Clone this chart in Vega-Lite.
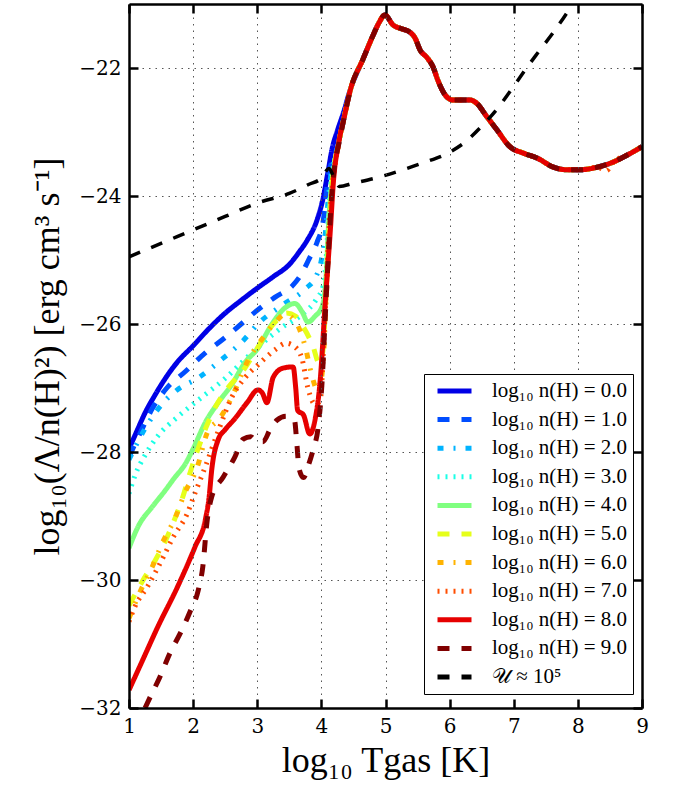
{
"$schema": "https://vega.github.io/schema/vega-lite/v6.json",
"width": 513, "height": 704,
"autosize": {"type": "none"},
"padding": {"left": 129, "top": 4, "right": 32, "bottom": 78},
"background": "white",
"config": {"view": {"stroke": null}, "font": "Liberation Serif"},
"datasets": {
"lines": [
{"k":0,"x":1,"y":-27.95},{"k":0,"x":1.12,"y":-27.68},{"k":0,"x":1.25,"y":-27.39},{"k":0,"x":1.4,"y":-27.12},{"k":0,"x":1.56,"y":-26.86},{"k":0,"x":1.75,"y":-26.6},{"k":0,"x":2,"y":-26.34},{"k":0,"x":2.25,"y":-26.07},{"k":0,"x":2.5,"y":-25.83},{"k":0,"x":2.75,"y":-25.63},{"k":0,"x":3,"y":-25.44},{"k":0,"x":3.25,"y":-25.26},{"k":0,"x":3.5,"y":-25.07},{"k":0,"x":3.65,"y":-24.88},{"k":0,"x":3.78,"y":-24.69},{"k":0,"x":3.93,"y":-24.38},{"k":0,"x":4.03,"y":-24.02},{"k":0,"x":4.1,"y":-23.64},{"k":0,"x":4.17,"y":-23.25},{"k":0,"x":4.25,"y":-22.98},{"k":0,"x":4.35,"y":-22.68},
{"k":0,"x":4.45,"y":-22.34},{"k":0,"x":4.65,"y":-21.86},{"k":0,"x":4.81,"y":-21.48},{"k":0,"x":4.9,"y":-21.29},{"k":0,"x":4.99,"y":-21.17},{"k":0,"x":5.12,"y":-21.33},{"k":0,"x":5.23,"y":-21.38},{"k":0,"x":5.38,"y":-21.44},{"k":0,"x":5.46,"y":-21.53},{"k":0,"x":5.54,"y":-21.72},{"k":0,"x":5.65,"y":-21.84},{"k":0,"x":5.74,"y":-21.98},{"k":0,"x":5.82,"y":-22.2},{"k":0,"x":5.93,"y":-22.42},{"k":0,"x":6.05,"y":-22.5},{"k":0,"x":6.32,"y":-22.5},{"k":0,"x":6.42,"y":-22.55},{"k":0,"x":6.58,"y":-22.76},{"k":0,"x":6.74,"y":-22.97},{"k":0,"x":6.94,"y":-23.23},{"k":0,"x":7.15,"y":-23.33},{"k":0,"x":7.37,"y":-23.41},{"k":0,"x":7.62,"y":-23.55},{"k":0,"x":7.83,"y":-23.59},{"k":0,"x":8.03,"y":-23.59},{"k":0,"x":8.3,"y":-23.55},{"k":0,"x":8.55,"y":-23.47},{"k":0,"x":8.77,"y":-23.36},{"k":0,"x":9,"y":-23.23},

{"k":1,"x":1,"y":-28.08},{"k":1,"x":1.2,"y":-27.65},{"k":1,"x":1.37,"y":-27.31},{"k":1,"x":1.59,"y":-27.0},{"k":1,"x":1.87,"y":-26.75},{"k":1,"x":2.19,"y":-26.45},{"k":1,"x":2.45,"y":-26.25},{"k":1,"x":2.75,"y":-26.0},{"k":1,"x":2.97,"y":-25.81},{"k":1,"x":3.28,"y":-25.58},{"k":1,"x":3.56,"y":-25.39},{"k":1,"x":3.7,"y":-25.2},{"k":1,"x":3.8,"y":-25.0},{"k":1,"x":3.93,"y":-24.73},{"k":1,"x":4.03,"y":-24.38},{"k":1,"x":4.1,"y":-23.75},
{"k":1,"x":4.27,"y":-23.17},{"k":1,"x":4.36,"y":-22.75},{"k":1,"x":4.45,"y":-22.35},{"k":1,"x":4.65,"y":-21.86},{"k":1,"x":4.81,"y":-21.48},{"k":1,"x":4.9,"y":-21.29},{"k":1,"x":4.99,"y":-21.17},{"k":1,"x":5.12,"y":-21.33},{"k":1,"x":5.23,"y":-21.38},{"k":1,"x":5.38,"y":-21.44},{"k":1,"x":5.46,"y":-21.53},{"k":1,"x":5.54,"y":-21.72},{"k":1,"x":5.65,"y":-21.84},{"k":1,"x":5.74,"y":-21.98},{"k":1,"x":5.82,"y":-22.2},{"k":1,"x":5.93,"y":-22.42},{"k":1,"x":6.05,"y":-22.5},{"k":1,"x":6.32,"y":-22.5},{"k":1,"x":6.42,"y":-22.55},{"k":1,"x":6.58,"y":-22.76},{"k":1,"x":6.74,"y":-22.97},{"k":1,"x":6.94,"y":-23.23},{"k":1,"x":7.15,"y":-23.33},{"k":1,"x":7.37,"y":-23.41},{"k":1,"x":7.62,"y":-23.55},{"k":1,"x":7.83,"y":-23.59},{"k":1,"x":8.03,"y":-23.59},{"k":1,"x":8.3,"y":-23.55},{"k":1,"x":8.55,"y":-23.47},{"k":1,"x":8.77,"y":-23.36},{"k":1,"x":9,"y":-23.23},

{"k":2,"x":1,"y":-28.12},{"k":2,"x":1.3,"y":-27.55},{"k":2,"x":1.59,"y":-27.17},{"k":2,"x":1.75,"y":-27.03},{"k":2,"x":2.1,"y":-26.83},{"k":2,"x":2.45,"y":-26.55},{"k":2,"x":2.76,"y":-26.28},{"k":2,"x":3.04,"y":-25.97},{"k":2,"x":3.4,"y":-25.7},{"k":2,"x":3.75,"y":-25.45},{"k":2,"x":3.92,"y":-25.25},{"k":2,"x":4.0,"y":-25.0},{"k":2,"x":4.06,"y":-24.6},{"k":2,"x":4.12,"y":-23.9},
{"k":2,"x":4.27,"y":-23.17},{"k":2,"x":4.36,"y":-22.75},{"k":2,"x":4.45,"y":-22.35},{"k":2,"x":4.65,"y":-21.86},{"k":2,"x":4.81,"y":-21.48},{"k":2,"x":4.9,"y":-21.29},{"k":2,"x":4.99,"y":-21.17},{"k":2,"x":5.12,"y":-21.33},{"k":2,"x":5.23,"y":-21.38},{"k":2,"x":5.38,"y":-21.44},{"k":2,"x":5.46,"y":-21.53},{"k":2,"x":5.54,"y":-21.72},{"k":2,"x":5.65,"y":-21.84},{"k":2,"x":5.74,"y":-21.98},{"k":2,"x":5.82,"y":-22.2},{"k":2,"x":5.93,"y":-22.42},{"k":2,"x":6.05,"y":-22.5},{"k":2,"x":6.32,"y":-22.5},{"k":2,"x":6.42,"y":-22.55},{"k":2,"x":6.58,"y":-22.76},{"k":2,"x":6.74,"y":-22.97},{"k":2,"x":6.94,"y":-23.23},{"k":2,"x":7.15,"y":-23.33},{"k":2,"x":7.37,"y":-23.41},{"k":2,"x":7.62,"y":-23.55},{"k":2,"x":7.83,"y":-23.59},{"k":2,"x":8.03,"y":-23.59},{"k":2,"x":8.3,"y":-23.55},{"k":2,"x":8.55,"y":-23.47},{"k":2,"x":8.77,"y":-23.36},{"k":2,"x":9,"y":-23.23},

{"k":3,"x":1,"y":-28.65},{"k":3,"x":1.1,"y":-28.35},{"k":3,"x":1.25,"y":-28.05},{"k":3,"x":1.45,"y":-27.75},{"k":3,"x":1.76,"y":-27.45},{"k":3,"x":2.14,"y":-27.14},{"k":3,"x":2.5,"y":-26.85},{"k":3,"x":2.76,"y":-26.6},{"k":3,"x":3.08,"y":-26.3},{"k":3,"x":3.39,"y":-26.05},{"k":3,"x":3.7,"y":-25.85},{"k":3,"x":3.93,"y":-25.6},{"k":3,"x":4.03,"y":-25.4},{"k":3,"x":4.08,"y":-24.9},{"k":3,"x":4.13,"y":-24.0},
{"k":3,"x":4.27,"y":-23.17},{"k":3,"x":4.36,"y":-22.75},{"k":3,"x":4.45,"y":-22.35},{"k":3,"x":4.65,"y":-21.86},{"k":3,"x":4.81,"y":-21.48},{"k":3,"x":4.9,"y":-21.29},{"k":3,"x":4.99,"y":-21.17},{"k":3,"x":5.12,"y":-21.33},{"k":3,"x":5.23,"y":-21.38},{"k":3,"x":5.38,"y":-21.44},{"k":3,"x":5.46,"y":-21.53},{"k":3,"x":5.54,"y":-21.72},{"k":3,"x":5.65,"y":-21.84},{"k":3,"x":5.74,"y":-21.98},{"k":3,"x":5.82,"y":-22.2},{"k":3,"x":5.93,"y":-22.42},{"k":3,"x":6.05,"y":-22.5},{"k":3,"x":6.32,"y":-22.5},{"k":3,"x":6.42,"y":-22.55},{"k":3,"x":6.58,"y":-22.76},{"k":3,"x":6.74,"y":-22.97},{"k":3,"x":6.94,"y":-23.23},{"k":3,"x":7.15,"y":-23.33},{"k":3,"x":7.37,"y":-23.41},{"k":3,"x":7.62,"y":-23.55},{"k":3,"x":7.83,"y":-23.59},{"k":3,"x":8.03,"y":-23.59},{"k":3,"x":8.3,"y":-23.55},{"k":3,"x":8.55,"y":-23.47},{"k":3,"x":8.77,"y":-23.36},{"k":3,"x":9,"y":-23.23},

{"k":4,"x":1,"y":-29.5},{"k":4,"x":1.15,"y":-29.15},{"k":4,"x":1.36,"y":-28.86},{"k":4,"x":1.55,"y":-28.62},{"k":4,"x":1.72,"y":-28.39},{"k":4,"x":1.87,"y":-28.2},{"k":4,"x":2,"y":-27.95},{"k":4,"x":2.2,"y":-27.52},{"k":4,"x":2.39,"y":-27.23},{"k":4,"x":2.6,"y":-26.95},{"k":4,"x":2.81,"y":-26.6},{"k":4,"x":3.01,"y":-26.38},{"k":4,"x":3.23,"y":-26.0},{"k":4,"x":3.43,"y":-25.75},{"k":4,"x":3.59,"y":-25.68},{"k":4,"x":3.7,"y":-25.81},{"k":4,"x":3.79,"y":-25.97},{"k":4,"x":3.9,"y":-25.88},{"k":4,"x":4.01,"y":-25.73},{"k":4,"x":4.07,"y":-25.3},{"k":4,"x":4.12,"y":-24.3},
{"k":4,"x":4.27,"y":-23.17},{"k":4,"x":4.36,"y":-22.75},{"k":4,"x":4.45,"y":-22.35},{"k":4,"x":4.65,"y":-21.86},{"k":4,"x":4.81,"y":-21.48},{"k":4,"x":4.9,"y":-21.29},{"k":4,"x":4.99,"y":-21.17},{"k":4,"x":5.12,"y":-21.33},{"k":4,"x":5.23,"y":-21.38},{"k":4,"x":5.38,"y":-21.44},{"k":4,"x":5.46,"y":-21.53},{"k":4,"x":5.54,"y":-21.72},{"k":4,"x":5.65,"y":-21.84},{"k":4,"x":5.74,"y":-21.98},{"k":4,"x":5.82,"y":-22.2},{"k":4,"x":5.93,"y":-22.42},{"k":4,"x":6.05,"y":-22.5},{"k":4,"x":6.32,"y":-22.5},{"k":4,"x":6.42,"y":-22.55},{"k":4,"x":6.58,"y":-22.76},{"k":4,"x":6.74,"y":-22.97},{"k":4,"x":6.94,"y":-23.23},{"k":4,"x":7.15,"y":-23.33},{"k":4,"x":7.37,"y":-23.41},{"k":4,"x":7.62,"y":-23.55},{"k":4,"x":7.83,"y":-23.59},{"k":4,"x":8.03,"y":-23.59},{"k":4,"x":8.3,"y":-23.55},{"k":4,"x":8.55,"y":-23.47},{"k":4,"x":8.77,"y":-23.36},{"k":4,"x":9,"y":-23.23},

{"k":5,"x":1,"y":-30.4},{"k":5,"x":1.22,"y":-30.0},{"k":5,"x":1.41,"y":-29.69},{"k":5,"x":1.59,"y":-29.34},{"k":5,"x":1.72,"y":-29.03},{"k":5,"x":1.84,"y":-28.7},{"k":5,"x":1.95,"y":-28.33},{"k":5,"x":2.06,"y":-28.0},{"k":5,"x":2.2,"y":-27.62},{"k":5,"x":2.34,"y":-27.31},{"k":5,"x":2.54,"y":-27.0},{"k":5,"x":2.8,"y":-26.7},{"k":5,"x":3.0,"y":-26.38},{"k":5,"x":3.15,"y":-26.13},{"k":5,"x":3.3,"y":-25.95},{"k":5,"x":3.46,"y":-25.83},{"k":5,"x":3.6,"y":-25.88},{"k":5,"x":3.72,"y":-26.05},{"k":5,"x":3.87,"y":-26.35},{"k":5,"x":3.96,"y":-26.6},{"k":5,"x":4.02,"y":-26.45},{"k":5,"x":4.07,"y":-25.6},{"k":5,"x":4.12,"y":-24.6},{"k":5,"x":4.17,"y":-23.8},
{"k":5,"x":4.27,"y":-23.17},{"k":5,"x":4.36,"y":-22.75},{"k":5,"x":4.45,"y":-22.35},{"k":5,"x":4.65,"y":-21.86},{"k":5,"x":4.81,"y":-21.48},{"k":5,"x":4.9,"y":-21.29},{"k":5,"x":4.99,"y":-21.17},{"k":5,"x":5.12,"y":-21.33},{"k":5,"x":5.23,"y":-21.38},{"k":5,"x":5.38,"y":-21.44},{"k":5,"x":5.46,"y":-21.53},{"k":5,"x":5.54,"y":-21.72},{"k":5,"x":5.65,"y":-21.84},{"k":5,"x":5.74,"y":-21.98},{"k":5,"x":5.82,"y":-22.2},{"k":5,"x":5.93,"y":-22.42},{"k":5,"x":6.05,"y":-22.5},{"k":5,"x":6.32,"y":-22.5},{"k":5,"x":6.42,"y":-22.55},{"k":5,"x":6.58,"y":-22.76},{"k":5,"x":6.74,"y":-22.97},{"k":5,"x":6.94,"y":-23.23},{"k":5,"x":7.15,"y":-23.33},{"k":5,"x":7.37,"y":-23.41},{"k":5,"x":7.62,"y":-23.55},{"k":5,"x":7.83,"y":-23.59},{"k":5,"x":8.03,"y":-23.59},{"k":5,"x":8.3,"y":-23.55},{"k":5,"x":8.55,"y":-23.47},{"k":5,"x":8.77,"y":-23.36},{"k":5,"x":9,"y":-23.23},

{"k":6,"x":1,"y":-30.6},{"k":6,"x":1.17,"y":-30.19},{"k":6,"x":1.36,"y":-29.8},{"k":6,"x":1.53,"y":-29.4},{"k":6,"x":1.72,"y":-29.03},{"k":6,"x":1.87,"y":-28.64},{"k":6,"x":2.06,"y":-28.25},{"k":6,"x":2.22,"y":-27.7},{"k":6,"x":2.42,"y":-27.47},{"k":6,"x":2.6,"y":-27.15},{"k":6,"x":2.84,"y":-26.6},{"k":6,"x":3.1,"y":-26.2},{"k":6,"x":3.3,"y":-25.95},{"k":6,"x":3.43,"y":-25.85},{"k":6,"x":3.6,"y":-25.97},{"k":6,"x":3.75,"y":-26.36},{"k":6,"x":3.85,"y":-26.8},{"k":6,"x":3.95,"y":-27.05},{"k":6,"x":4.02,"y":-26.7},{"k":6,"x":4.08,"y":-25.5},{"k":6,"x":4.14,"y":-24.3},
{"k":6,"x":4.27,"y":-23.17},{"k":6,"x":4.36,"y":-22.75},{"k":6,"x":4.45,"y":-22.35},{"k":6,"x":4.65,"y":-21.86},{"k":6,"x":4.81,"y":-21.48},{"k":6,"x":4.9,"y":-21.29},{"k":6,"x":4.99,"y":-21.17},{"k":6,"x":5.12,"y":-21.33},{"k":6,"x":5.23,"y":-21.38},{"k":6,"x":5.38,"y":-21.44},{"k":6,"x":5.46,"y":-21.53},{"k":6,"x":5.54,"y":-21.72},{"k":6,"x":5.65,"y":-21.84},{"k":6,"x":5.74,"y":-21.98},{"k":6,"x":5.82,"y":-22.2},{"k":6,"x":5.93,"y":-22.42},{"k":6,"x":6.05,"y":-22.5},{"k":6,"x":6.32,"y":-22.5},{"k":6,"x":6.42,"y":-22.55},{"k":6,"x":6.58,"y":-22.76},{"k":6,"x":6.74,"y":-22.97},{"k":6,"x":6.94,"y":-23.23},{"k":6,"x":7.15,"y":-23.33},{"k":6,"x":7.37,"y":-23.41},{"k":6,"x":7.62,"y":-23.55},{"k":6,"x":7.83,"y":-23.59},{"k":6,"x":8.03,"y":-23.59},{"k":6,"x":8.3,"y":-23.55},{"k":6,"x":8.55,"y":-23.47},{"k":6,"x":8.77,"y":-23.36},{"k":6,"x":9,"y":-23.23},

{"k":7,"x":1,"y":-30.65},{"k":7,"x":1.09,"y":-30.42},{"k":7,"x":1.29,"y":-30.1},{"k":7,"x":1.51,"y":-29.69},{"k":7,"x":1.69,"y":-29.33},{"k":7,"x":1.9,"y":-28.98},{"k":7,"x":2.03,"y":-28.64},{"k":7,"x":2.19,"y":-28.23},{"k":7,"x":2.4,"y":-27.65},{"k":7,"x":2.6,"y":-27.15},{"k":7,"x":2.8,"y":-26.85},{"k":7,"x":3.01,"y":-26.64},{"k":7,"x":3.28,"y":-26.4},{"k":7,"x":3.45,"y":-26.3},{"k":7,"x":3.59,"y":-26.36},{"k":7,"x":3.7,"y":-26.55},{"k":7,"x":3.79,"y":-27.0},{"k":7,"x":3.9,"y":-27.25},{"k":7,"x":3.98,"y":-27.2},{"k":7,"x":4.05,"y":-26.0},{"k":7,"x":4.12,"y":-24.5},
{"k":7,"x":4.27,"y":-23.17},{"k":7,"x":4.36,"y":-22.75},{"k":7,"x":4.45,"y":-22.35},{"k":7,"x":4.65,"y":-21.86},{"k":7,"x":4.81,"y":-21.48},{"k":7,"x":4.9,"y":-21.29},{"k":7,"x":4.99,"y":-21.17},{"k":7,"x":5.12,"y":-21.33},{"k":7,"x":5.23,"y":-21.38},{"k":7,"x":5.38,"y":-21.44},{"k":7,"x":5.46,"y":-21.53},{"k":7,"x":5.54,"y":-21.72},{"k":7,"x":5.65,"y":-21.84},{"k":7,"x":5.74,"y":-21.98},{"k":7,"x":5.82,"y":-22.2},{"k":7,"x":5.93,"y":-22.42},{"k":7,"x":6.05,"y":-22.5},{"k":7,"x":6.32,"y":-22.5},{"k":7,"x":6.42,"y":-22.55},{"k":7,"x":6.58,"y":-22.76},{"k":7,"x":6.74,"y":-22.97},{"k":7,"x":6.94,"y":-23.23},{"k":7,"x":7.15,"y":-23.33},{"k":7,"x":7.37,"y":-23.41},{"k":7,"x":7.62,"y":-23.55},{"k":7,"x":7.83,"y":-23.59},{"k":7,"x":8.03,"y":-23.59},{"k":7,"x":8.3,"y":-23.55},{"k":7,"x":8.45,"y":-23.6},{"k":7,"x":8.55,"y":-23.47},{"k":7,"x":8.77,"y":-23.36},{"k":7,"x":9,"y":-23.23},

{"k":8,"x":1,"y":-31.72},{"k":8,"x":1.2,"y":-31.28},{"k":8,"x":1.45,"y":-30.73},{"k":8,"x":1.76,"y":-30.1},{"k":8,"x":2.03,"y":-29.48},{"k":8,"x":2.19,"y":-29.06},{"k":8,"x":2.25,"y":-28.7},{"k":8,"x":2.29,"y":-28.28},{"k":8,"x":2.39,"y":-27.81},{"k":8,"x":2.5,"y":-27.65},{"k":8,"x":2.65,"y":-27.48},{"k":8,"x":2.84,"y":-27.23},{"k":8,"x":3.01,"y":-27.03},{"k":8,"x":3.08,"y":-27.08},{"k":8,"x":3.15,"y":-27.23},{"k":8,"x":3.25,"y":-26.83},{"k":8,"x":3.4,"y":-26.69},{"k":8,"x":3.56,"y":-26.67},{"k":8,"x":3.6,"y":-27.0},{"k":8,"x":3.63,"y":-27.35},{"k":8,"x":3.72,"y":-27.42},{"k":8,"x":3.82,"y":-27.72},{"k":8,"x":3.9,"y":-27.5},{"k":8,"x":3.98,"y":-26.9},{"k":8,"x":4.06,"y":-25.67},{"k":8,"x":4.14,"y":-24.53},{"k":8,"x":4.19,"y":-23.75},{"k":8,"x":4.27,"y":-23.17},{"k":8,"x":4.36,"y":-22.75},
{"k":8,"x":4.45,"y":-22.35},{"k":8,"x":4.65,"y":-21.86},{"k":8,"x":4.81,"y":-21.48},{"k":8,"x":4.9,"y":-21.29},{"k":8,"x":4.99,"y":-21.17},{"k":8,"x":5.12,"y":-21.33},{"k":8,"x":5.23,"y":-21.38},{"k":8,"x":5.38,"y":-21.44},{"k":8,"x":5.46,"y":-21.53},{"k":8,"x":5.54,"y":-21.72},{"k":8,"x":5.65,"y":-21.84},{"k":8,"x":5.74,"y":-21.98},{"k":8,"x":5.82,"y":-22.2},{"k":8,"x":5.93,"y":-22.42},{"k":8,"x":6.05,"y":-22.5},{"k":8,"x":6.32,"y":-22.5},{"k":8,"x":6.42,"y":-22.55},{"k":8,"x":6.58,"y":-22.76},{"k":8,"x":6.74,"y":-22.97},{"k":8,"x":6.94,"y":-23.23},{"k":8,"x":7.15,"y":-23.33},{"k":8,"x":7.37,"y":-23.41},{"k":8,"x":7.62,"y":-23.55},{"k":8,"x":7.83,"y":-23.59},{"k":8,"x":8.03,"y":-23.59},{"k":8,"x":8.3,"y":-23.55},{"k":8,"x":8.55,"y":-23.47},{"k":8,"x":8.77,"y":-23.36},{"k":8,"x":9,"y":-23.23},

{"k":9,"x":1.25,"y":-32.0},{"k":9,"x":1.33,"y":-31.83},{"k":9,"x":1.48,"y":-31.52},{"k":9,"x":1.64,"y":-31.14},{"k":9,"x":1.8,"y":-30.83},{"k":9,"x":1.95,"y":-30.5},{"k":9,"x":2.08,"y":-30.16},{"k":9,"x":2.15,"y":-29.8},{"k":9,"x":2.22,"y":-29.06},{"k":9,"x":2.29,"y":-28.7},{"k":9,"x":2.47,"y":-28.39},{"k":9,"x":2.65,"y":-28.08},{"k":9,"x":2.78,"y":-27.8},{"k":9,"x":2.9,"y":-27.76},{"k":9,"x":3.0,"y":-27.84},{"k":9,"x":3.09,"y":-27.84},{"k":9,"x":3.2,"y":-27.65},{"k":9,"x":3.31,"y":-27.5},{"k":9,"x":3.45,"y":-27.44},{"k":9,"x":3.58,"y":-27.5},{"k":9,"x":3.62,"y":-27.9},{"k":9,"x":3.65,"y":-28.25},{"k":9,"x":3.72,"y":-28.4},{"k":9,"x":3.8,"y":-28.2},{"k":9,"x":3.87,"y":-27.97},{"k":9,"x":3.95,"y":-27.61},{"k":9,"x":4.01,"y":-26.92},{"k":9,"x":4.06,"y":-25.9},{"k":9,"x":4.11,"y":-24.9},{"k":9,"x":4.16,"y":-24.0},{"k":9,"x":4.21,"y":-23.5},{"k":9,"x":4.28,"y":-23.15},{"k":9,"x":4.36,"y":-22.75},
{"k":9,"x":4.45,"y":-22.35},{"k":9,"x":4.65,"y":-21.86},{"k":9,"x":4.81,"y":-21.48},{"k":9,"x":4.9,"y":-21.29},{"k":9,"x":4.99,"y":-21.17},{"k":9,"x":5.12,"y":-21.33},{"k":9,"x":5.23,"y":-21.38},{"k":9,"x":5.38,"y":-21.44},{"k":9,"x":5.46,"y":-21.53},{"k":9,"x":5.54,"y":-21.72},{"k":9,"x":5.65,"y":-21.84},{"k":9,"x":5.74,"y":-21.98},{"k":9,"x":5.82,"y":-22.2},{"k":9,"x":5.93,"y":-22.42},{"k":9,"x":6.05,"y":-22.5},{"k":9,"x":6.32,"y":-22.5},{"k":9,"x":6.42,"y":-22.55},{"k":9,"x":6.58,"y":-22.76},{"k":9,"x":6.74,"y":-22.97},{"k":9,"x":6.94,"y":-23.23},{"k":9,"x":7.15,"y":-23.33},{"k":9,"x":7.37,"y":-23.41},{"k":9,"x":7.62,"y":-23.55},{"k":9,"x":7.83,"y":-23.59},{"k":9,"x":8.03,"y":-23.59},{"k":9,"x":8.3,"y":-23.55},{"k":9,"x":8.55,"y":-23.47},{"k":9,"x":8.77,"y":-23.36},{"k":9,"x":9,"y":-23.23},

{"k":10,"x":1,"y":-24.95},{"k":10,"x":1.5,"y":-24.74},{"k":10,"x":2,"y":-24.53},{"k":10,"x":2.5,"y":-24.32},{"k":10,"x":3,"y":-24.11},{"k":10,"x":3.5,"y":-23.96},{"k":10,"x":3.8,"y":-23.82},{"k":10,"x":4.0,"y":-23.72},{"k":10,"x":4.12,"y":-23.57},{"k":10,"x":4.2,"y":-23.72},{"k":10,"x":4.28,"y":-23.85},{"k":10,"x":4.5,"y":-23.8},{"k":10,"x":4.92,"y":-23.7},{"k":10,"x":5.3,"y":-23.58},{"k":10,"x":5.59,"y":-23.48},{"k":10,"x":6.01,"y":-23.31},{"k":10,"x":6.25,"y":-23.15},{"k":10,"x":6.48,"y":-22.93},{"k":10,"x":6.74,"y":-22.64},{"k":10,"x":6.99,"y":-22.3},{"k":10,"x":7.2,"y":-22.0},{"k":10,"x":7.37,"y":-21.77},{"k":10,"x":7.65,"y":-21.4},{"k":10,"x":7.92,"y":-21.0}
]
},
"data": {"name": "lines"},
"layer": [
{
"mark": {"type": "line", "clip": true, "interpolate": "monotone", "strokeCap": "butt"},
"encoding": {
"x": {"field": "x", "type": "quantitative", "scale": {"domain": [1, 9], "nice": false, "zero": false},
 "axis": {"orient": "bottom", "values": [1,2,3,4,5,6,7,8,9], "format": "d", "labelFlush": false, "tickSize": -9, "tickWidth": 2.5, "tickColor": "black", "domainColor": "black", "domainWidth": 2.5, "labelPadding": 17, "labelFontSize": 20, "labelFont": "DejaVu Serif", "labelColor": "black", "grid": true, "gridDash": [1.5, 5], "gridColor": "#555555", "gridWidth": 1, "zindex": 1, "title": "log₁₀ Tgas [K]", "titleFont": "Liberation Serif", "titleFontSize": 36, "titleFontWeight": "normal", "titleColor": "black", "titlePadding": 7}},
"y": {"field": "y", "type": "quantitative", "scale": {"domain": [-32, -21], "nice": false, "zero": false},
 "axis": {"orient": "left", "values": [-32,-30,-28,-26,-24,-22], "format": "d", "labelFlush": false, "tickSize": -9, "tickWidth": 2.5, "tickColor": "black", "domainColor": "black", "domainWidth": 2.5, "labelPadding": 17, "labelFontSize": 20, "labelFont": "DejaVu Serif", "labelColor": "black", "grid": true, "gridDash": [1.5, 5], "gridColor": "#555555", "gridWidth": 1, "zindex": 1, "title": "log₁₀(Λ/n(H)²) [erg cm³ s⁻¹]", "titleFont": "Liberation Serif", "titleFontSize": 36, "titleFontWeight": "normal", "titleColor": "black", "titlePadding": 12}},
"color": {"field": "k", "type": "nominal",
 "scale": {"domain": [0,1,2,3,4,5,6,7,8,9,10], "range": ["#0000e6","#004dff","#00b3ff","#1affe6","#80ff80","#e6ff1a","#ffb300","#ff4d00","#e60000","#800000","#000000"]},
 "legend": {"orient": "none", "legendX": 295, "legendY": 370, "title": null, "symbolType": "stroke", "symbolSize": 1156, "symbolStrokeWidth": 5, "symbolOffset": 5, "labelFont": "Liberation Serif", "labelFontSize": 21, "labelColor": "black", "labelOffset": 18, "labelLimit": 300, "padding": 6, "strokeColor": "black", "fillColor": "white", "cornerRadius": 0, "clipHeight": 22, "rowPadding": 6.6, "symbolLimit": 0, "zindex": 2,
  "labelExpr": "datum.value == 10 ? '𝒰 ≈ 10⁵' : 'log₁₀ n(H) = ' + format(datum.value, '.1f')"}},
"strokeDash": {"field": "k", "type": "nominal",
 "scale": {"domain": [0,1,2,3,4,5,6,7,8,9,10], "range": [[1,0],[12,12],[6,10,2,10],[2,6],[1,0],[12,12],[6,10,2,10],[2,6],[1,0],[12,12],[12,12]]}},
"strokeWidth": {"condition": {"test": "datum.k == 10", "value": 3.5}, "value": 5}
}
},
{
"mark": {"type": "point", "opacity": 0},
"encoding": {
"x": {"field": "x", "type": "quantitative", "scale": {"domain": [1, 9], "nice": false, "zero": false},
 "axis": {"orient": "top", "values": [1,2,3,4,5,6,7,8,9], "labels": false, "grid": false, "title": null, "tickSize": -9, "tickWidth": 2.5, "tickColor": "black", "domainColor": "black", "domainWidth": 2.5, "zindex": 1}},
"y": {"field": "y", "type": "quantitative", "scale": {"domain": [-32, -21], "nice": false, "zero": false},
 "axis": {"orient": "right", "values": [-32,-30,-28,-26,-24,-22], "labels": false, "grid": false, "title": null, "tickSize": -9, "tickWidth": 2.5, "tickColor": "black", "domainColor": "black", "domainWidth": 2.5, "zindex": 1}}
}
}
],
"resolve": {"axis": {"x": "independent", "y": "independent"}}
}
